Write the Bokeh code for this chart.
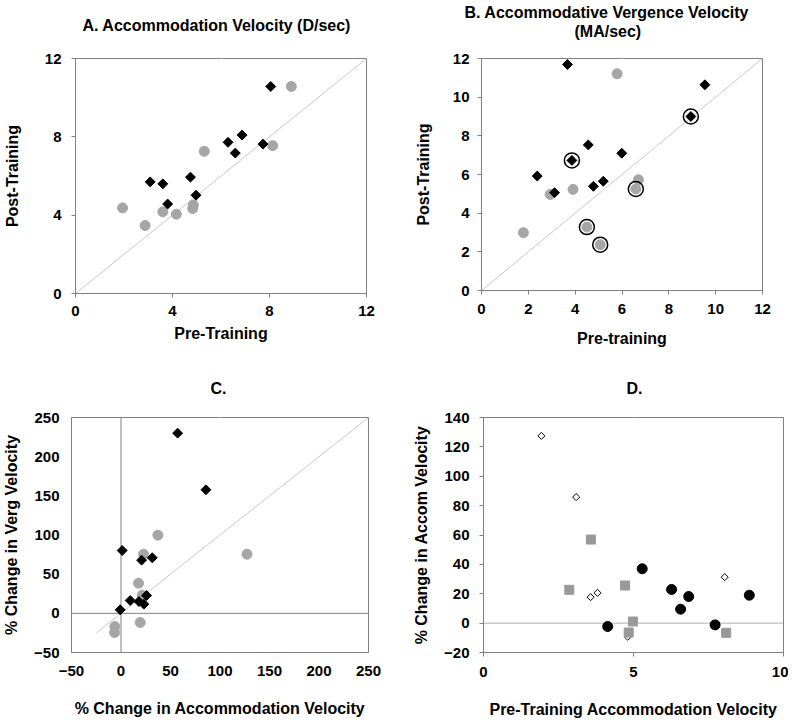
import math
from bokeh.plotting import figure
from bokeh.models import Range1d, FixedTicker, Span, Title, LinearAxis
from bokeh.layouts import column, row
from bokeh.embed import file_html
from bokeh.resources import INLINE

# ---------------- data ----------------
# Panel A: accommodation velocity (D/sec)
A_black_pre = [8.05, 6.29, 6.87, 6.59, 7.73, 3.08, 3.60, 4.74, 4.97, 3.80]
A_black_post = [10.57, 7.72, 8.09, 7.17, 7.63, 5.70, 5.60, 5.94, 5.02, 4.57]
A_gray_pre = [8.90, 8.13, 5.31, 1.94, 2.87, 3.60, 4.16, 4.86, 4.83]
A_gray_post = [10.57, 7.55, 7.26, 4.37, 3.47, 4.17, 4.05, 4.52, 4.34]

# Panel B: accommodative vergence velocity (MA/sec)
B_black_pre = [3.67, 9.54, 8.94, 3.86, 4.56, 5.99, 2.38, 3.12, 4.78, 5.20]
B_black_post = [11.69, 10.64, 9.00, 6.73, 7.53, 7.10, 5.92, 5.06, 5.39, 5.65]
B_gray_pre = [5.79, 1.79, 2.93, 3.91, 6.59, 6.70, 4.50, 5.07]
B_gray_post = [11.21, 2.99, 4.97, 5.23, 5.25, 5.73, 3.28, 2.37]
B_circled_pre = [8.94, 3.86, 6.59, 4.50, 5.07]
B_circled_post = [9.00, 6.73, 5.25, 3.28, 2.37]

# Panel C: % change
C_black_x = [57.2, 85.8, 1.2, 20.8, 31.6, 9.3, 18.1, 25.8, 23.1, -0.8]
C_black_y = [230.0, 157.7, 80.2, 67.9, 70.9, 16.4, 15.1, 22.8, 11.7, 4.5]
C_gray_x = [37.3, 22.8, 127.3, 17.7, 21.5, 19.4, -6.2, -6.5]
C_gray_y = [99.8, 75.5, 75.5, 38.5, 23.2, -11.7, -16.8, -24.5]

# Panel D: % change in accom velocity vs pre-training accommodation velocity
D_open_x = [1.93, 3.09, 3.57, 3.80, 4.81, 8.04]
D_open_y = [127.5, 85.8, 17.7, 20.6, -9.3, 31.3]
D_sq_x = [2.86, 3.58, 4.72, 4.84, 4.98, 8.09]
D_sq_y = [22.7, 56.9, 25.6, -6.4, 1.1, -6.6]
D_dot_x = [4.14, 5.29, 6.27, 6.57, 6.84, 7.72, 8.86]
D_dot_y = [-2.3, 37.0, 22.9, 9.5, 18.1, -1.2, 19.0]

# identity lines and ticks
AB_identity = [0, 12]
C_identity = [-25, 250]
A_ticks = [0, 4, 8, 12]
B_ticks = [0, 2, 4, 6, 8, 10, 12]
C_ticks = [-50, 0, 50, 100, 150, 200, 250]
D_xticks = [0, 5, 10]
D_yticks = [-20, 0, 20, 40, 60, 80, 100, 120, 140]

FONT = "Liberation Sans"
AX = "#808080"
GRAY = "#a6a6a6"
DIAG = "#c8c8c8"


def style_axis(ax, tick_out, lab_standoff, ax_standoff):
    ax.axis_line_color = AX
    ax.axis_line_width = 1
    ax.major_tick_line_color = AX
    ax.minor_tick_line_color = None
    ax.major_tick_in = 0
    ax.major_tick_out = tick_out
    ax.major_label_standoff = lab_standoff
    ax.axis_label_standoff = ax_standoff
    ax.major_label_text_font = FONT
    ax.major_label_text_font_style = "bold"
    ax.major_label_text_font_size = "15px"
    ax.major_label_text_color = "black"
    ax.axis_label_text_font = FONT
    ax.axis_label_text_font_style = "bold"
    ax.axis_label_text_font_size = "16px"
    ax.axis_label_text_color = "black"


def add_spacer(p, gap):
    # a blank axis above the frame that only reserves vertical room
    mid = 0.5 * (p.x_range.start + p.x_range.end)
    sp = LinearAxis(ticker=FixedTicker(ticks=[mid]), axis_line_color=None,
                    major_tick_line_color="white", minor_tick_line_color=None,
                    major_tick_in=0, major_tick_out=gap,
                    major_label_text_color=None, major_label_text_font_size="1px",
                    major_label_standoff=0, axis_label_standoff=0)
    p.add_layout(sp, "above")


def add_heading(p, text, offset):
    p.add_layout(Title(text=text, align="left", offset=offset, standoff=0,
                       text_font=FONT, text_font_style="bold",
                       text_font_size="16px", text_color="black"), "above")


def make(fw, fh, xr, yr, xticks, yticks, borders, xlabel, ylabel, xs, ys,
         tick_out=4):
    p = figure(frame_width=fw, frame_height=fh,
               x_range=Range1d(*xr), y_range=Range1d(*yr),
               output_backend="svg", toolbar_location=None,
               min_border_left=borders[0], min_border_right=borders[1],
               min_border_top=borders[2], min_border_bottom=borders[3])
    p.title.visible = False
    p.grid.visible = False
    p.outline_line_color = AX
    p.outline_line_width = 1
    p.xaxis.ticker = FixedTicker(ticks=xticks)
    p.yaxis.ticker = FixedTicker(ticks=yticks)
    p.xaxis.axis_label = xlabel
    p.yaxis.axis_label = ylabel
    style_axis(p.xaxis[0], tick_out, xs[0], xs[1])
    style_axis(p.yaxis[0], tick_out, ys[0], ys[1])
    return p


# ---------------- Panel A ----------------
pA = make(291, 235, (0, 12), (0, 12), A_ticks, A_ticks, (68, 37, 50, 69),
          "Pre-Training", "Post-Training", (8, 6), (10, 21))
add_spacer(pA, 25)
add_heading(pA, "A. Accommodation Velocity (D/sec)", 7)
pA.line(AB_identity, AB_identity, line_color=DIAG, line_width=1)
pA.scatter(A_gray_pre, A_gray_post, marker="circle", size=10,
           fill_color=GRAY, line_color=GRAY)
pA.scatter(A_black_pre, A_black_post, marker="square", angle=math.pi / 4,
           size=7, fill_color="black", line_color="black")

# ---------------- Panel B ----------------
pB = make(281, 232, (0, 12), (0, 12), B_ticks, B_ticks, (78, 27, 58, 64),
          "Pre-training", "Post-Training", (9, 13), (8, 18))
add_spacer(pB, 19)
add_heading(pB, "(MA/sec)", 93)
add_heading(pB, "B. Accommodative Vergence Velocity", -17)
pB.line(AB_identity, AB_identity, line_color=DIAG, line_width=1)
pB.scatter(B_gray_pre, B_gray_post, marker="circle", size=10,
           fill_color=GRAY, line_color=GRAY)
pB.scatter(B_black_pre, B_black_post, marker="square", angle=math.pi / 4,
           size=7, fill_color="black", line_color="black")
pB.scatter(B_circled_pre, B_circled_post, marker="circle", size=15,
           fill_color=None, line_color="black", line_width=1.5)

# ---------------- Panel C ----------------
pC = make(297, 235, (-50, 250), (-50, 250), C_ticks, C_ticks, (65, 34, 63, 69),
          "% Change in Accommodation Velocity", "% Change in Verg Velocity",
          (13, 21), (12, 11), tick_out=0)
add_spacer(pC, 21)
add_heading(pC, "C.", 139)
pC.add_layout(Span(location=0, dimension="width", line_color=AX,
                   line_width=1, level="underlay"))
pC.add_layout(Span(location=0, dimension="height", line_color=AX,
                   line_width=1, level="underlay"))
pC.line(C_identity, C_identity, line_color=DIAG, line_width=1)
pC.scatter(C_gray_x, C_gray_y, marker="circle", size=10,
           fill_color=GRAY, line_color=GRAY)
pC.scatter(C_black_x, C_black_y, marker="square", angle=math.pi / 4,
           size=7, fill_color="black", line_color="black")

# ---------------- Panel D ----------------
pD = make(300, 235, (0, 10), (-20, 140), D_xticks, D_yticks, (81, 5, 63, 69),
          "Pre-Training Accommodation Velocity", "% Change in Accom Velocity",
          (10, 21), (10, 11))
add_spacer(pD, 21)
add_heading(pD, "D.", 143)
pD.add_layout(Span(location=0, dimension="width", line_color="#b0b0b0",
                   line_width=1, level="underlay"))
pD.scatter(D_open_x, D_open_y, marker="square", angle=math.pi / 4, size=5,
           fill_color="white", line_color="black", line_width=1)
pD.scatter(D_sq_x, D_sq_y, marker="square", size=9,
           fill_color="#999999", line_color="#999999")
pD.scatter(D_dot_x, D_dot_y, marker="circle", size=10,
           fill_color="black", line_color="black")

layout = column(row(pA, pB), row(pC, pD))
open("out.html", "w").write(file_html(layout, INLINE))
